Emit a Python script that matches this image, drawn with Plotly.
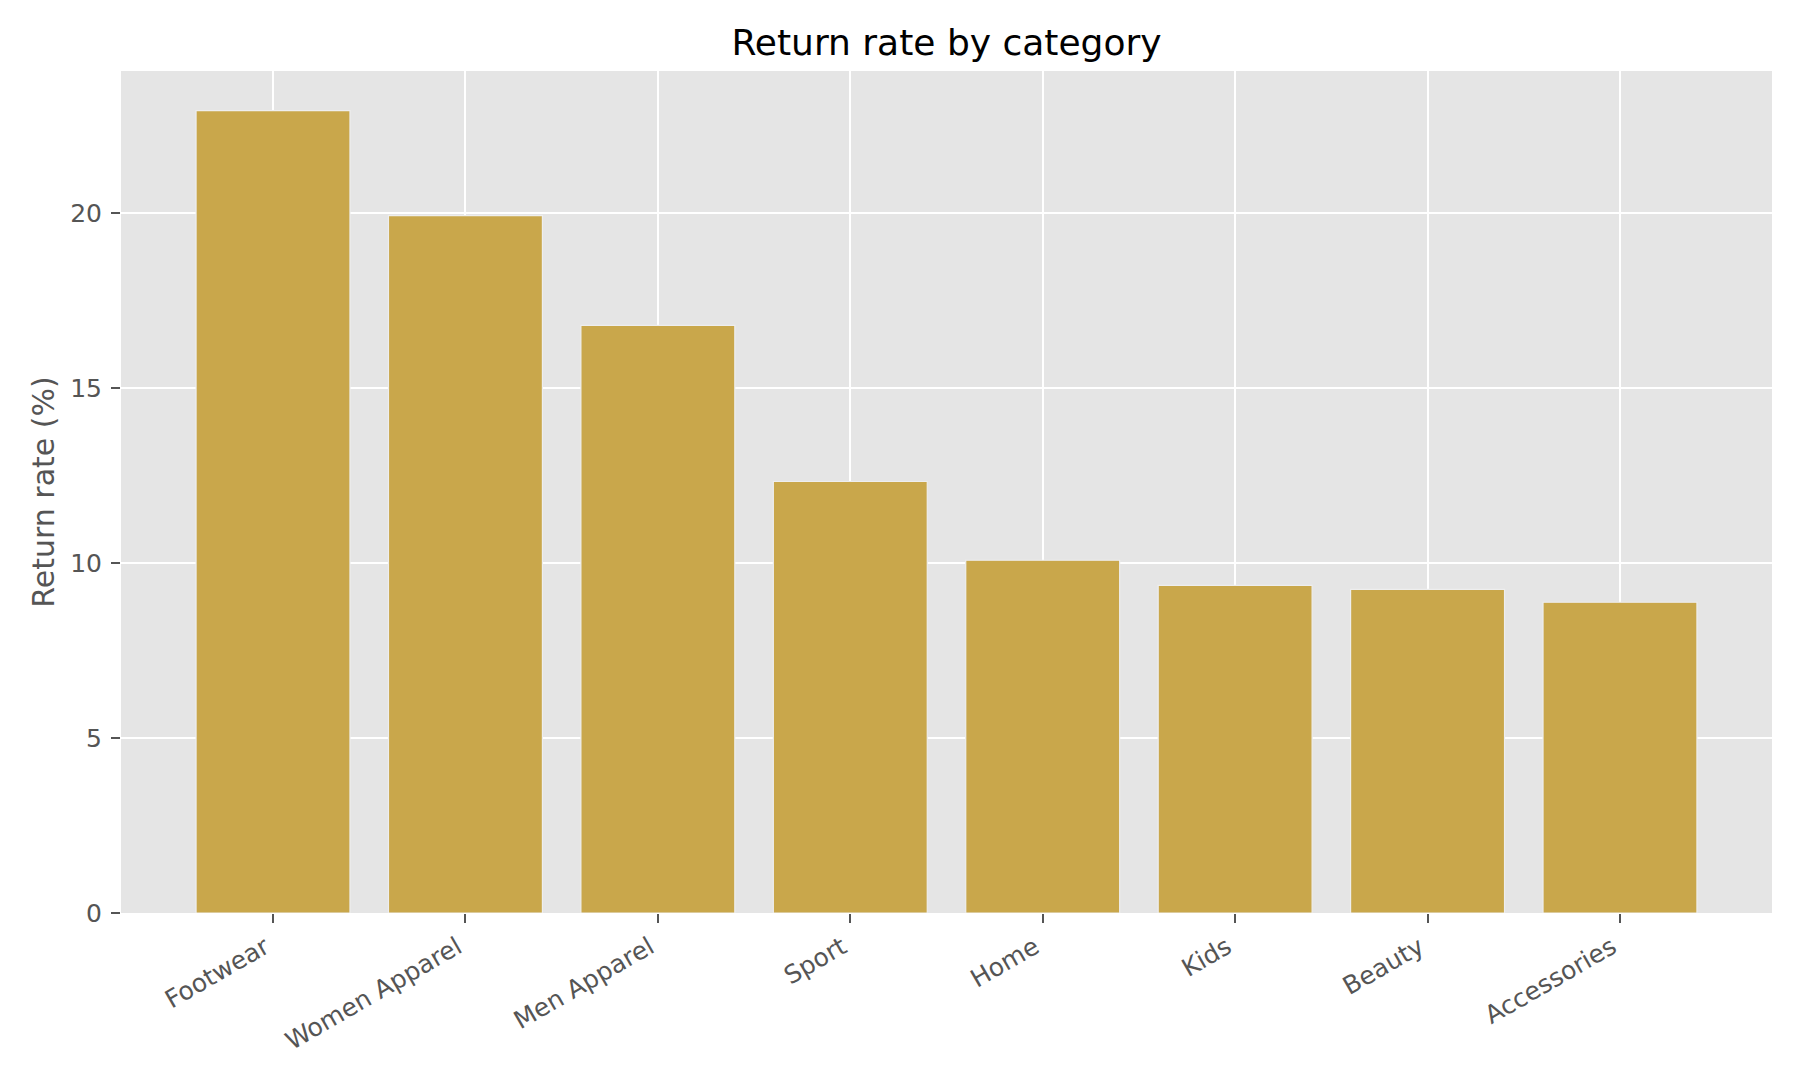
import plotly.graph_objects as go

categories = ["Footwear", "Women Apparel", "Men Apparel", "Sport", "Home", "Kids", "Beauty", "Accessories"]
return_rate = [22.93, 19.93, 16.79, 12.33, 10.08, 9.36, 9.25, 8.88]
y_ticks = [0, 5, 10, 15, 20]

FONT = "DejaVu Sans"
GREY = "#555555"

L, R, T, B = 121, 1772, 71, 913
W, H = 1800, 1080

fig = go.Figure(
    go.Bar(
        x=categories,
        y=return_rate,
        width=0.8,
        marker=dict(color="#C9A74B", line=dict(color="#EEEEEE", width=1.2)),
    )
)

fig.update_layout(
    width=W,
    height=H,
    paper_bgcolor="white",
    plot_bgcolor="#E5E5E5",
    margin=dict(l=L, r=W - R, t=T, b=H - B),
    showlegend=False,
    font=dict(family=FONT, color=GREY),
    title=dict(
        text="Return rate by category",
        font=dict(family=FONT, size=36, color="black"),
        x=0.5 * (L + R) / W,
        xanchor="center",
        xref="container",
        y=1 - 42 / H,
        yref="container",
        yanchor="middle",
    ),
)

fig.update_xaxes(
    type="category",
    range=[-0.79, 7.79],
    showgrid=True,
    gridcolor="white",
    gridwidth=2,
    ticks="outside",
    ticklen=9,
    tickwidth=2,
    tickcolor=GREY,
    tickangle=-30,
    ticklabelshift=-8,
    tickfont=dict(family=FONT, size=25, color=GREY),
    showline=False,
    zeroline=False,
)

fig.update_yaxes(
    range=[0, 24.06],
    tickvals=y_ticks,
    ticktext=[str(v) for v in y_ticks],
    showgrid=True,
    gridcolor="white",
    gridwidth=2,
    ticks="outside",
    ticklen=9,
    tickwidth=2,
    tickcolor=GREY,
    ticklabelstandoff=4,
    tickfont=dict(family=FONT, size=25, color=GREY),
    title=dict(text="Return rate (%)", font=dict(family=FONT, size=30, color=GREY), standoff=6),
    showline=False,
    zeroline=False,
)

fig.write_html(
    "out.html",
    config={"displayModeBar": False},
    post_script="document.body.style.margin='0';",
)
